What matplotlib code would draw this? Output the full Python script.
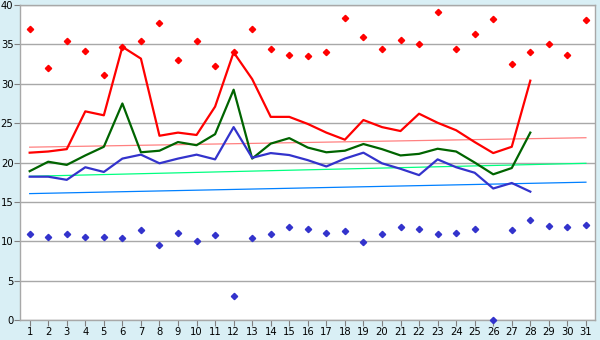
import matplotlib
matplotlib.use("Agg")
import matplotlib.pyplot as plt

days = list(range(1, 32))

# daily extremes (markers)
max_pts = [37.0, 32.0, 35.4, 34.2, 31.1, 34.7, 35.4, 37.7, 33.0, 35.4,
           32.3, 34.0, 37.0, 34.4, 33.6, 33.5, 34.1, 38.3, 36.0, 34.4,
           35.6, 35.0, 39.1, 34.4, 36.3, 38.2, 32.5, 34.0, 35.0, 33.6, 38.1]
min_pts = [10.9, 10.6, 10.9, 10.5, 10.6, 10.4, 11.4, 9.5, 11.0, 10.0,
           10.8, 3.0, 10.4, 10.9, 11.8, 11.5, 11.0, 11.3, 9.9, 10.9,
           11.8, 11.6, 10.9, 11.0, 11.6, 0.0, 11.4, 12.7, 11.9, 11.8, 12.0]

# daily lines (days 1-28)
line_days = list(range(1, 29))
red_line = [21.25, 21.4, 21.7, 26.5, 26.0, 34.7, 33.2, 23.4, 23.8, 23.5,
            27.1, 34.0, 30.6, 25.8, 25.8, 24.9, 23.8, 22.9, 25.4, 24.5,
            24.0, 26.2, 25.05, 24.1, 22.6, 21.2, 22.0, 30.4]
green_line = [18.9, 20.1, 19.7, 20.9, 22.0, 27.5, 21.3, 21.5, 22.6, 22.2,
              23.6, 29.25, 20.5, 22.4, 23.1, 21.9, 21.3, 21.5, 22.35, 21.7,
              20.9, 21.1, 21.75, 21.4, 20.0, 18.5, 19.3, 23.8]
blue_line = [18.2, 18.2, 17.8, 19.4, 18.8, 20.5, 21.0, 19.9, 20.5, 21.0,
             20.4, 24.5, 20.6, 21.2, 20.95, 20.3, 19.5, 20.5, 21.25, 19.9,
             19.2, 18.4, 20.4, 19.4, 18.7, 16.7, 17.4, 16.3]

# trend lines: value at day 1 and day 31
trend_x = [1, 31]
trend_red = [21.95, 23.15]
trend_green = [18.25, 19.9]
trend_blue = [16.05, 17.5]

bg = "#d9eff5"
fig = plt.figure(figsize=(6, 3.4), dpi=100, facecolor=bg)
ax = fig.add_axes([0.034, 0.059, 0.958, 0.926])
ax.set_facecolor("white")

ax.plot(trend_x, trend_red, color="#ff8080", lw=0.9, zorder=2)
ax.plot(trend_x, trend_green, color="#00ff80", lw=0.9, zorder=2)
ax.plot(trend_x, trend_blue, color="#0080ff", lw=0.9, zorder=2)

ax.plot(line_days, red_line, color="#ff0000", lw=1.6, zorder=3)
ax.plot(line_days, green_line, color="#006400", lw=1.6, zorder=3)
ax.plot(line_days, blue_line, color="#3333cc", lw=1.6, zorder=3)

ax.plot(days, max_pts, ls="none", marker="D", ms=3.2, color="#ff0000", zorder=4)
ax.plot(days, min_pts, ls="none", marker="D", ms=3.2, color="#3333cc", zorder=4,
        clip_on=False)

ax.set_xlim(0.5, 31.5)
ax.set_ylim(0, 40)
ax.set_xticks(days)
ax.set_yticks(range(0, 41, 5))
ax.yaxis.grid(True, color="#a8a8a8", lw=1)
ax.set_axisbelow(True)
ax.tick_params(axis="both", labelsize=7.2, color="#808080", length=4,
               labelcolor="black", pad=1)
for s in ax.spines.values():
    s.set_color("#a8a8a8")
    s.set_linewidth(1)

fig.savefig("out.png", dpi=100, facecolor=bg)
